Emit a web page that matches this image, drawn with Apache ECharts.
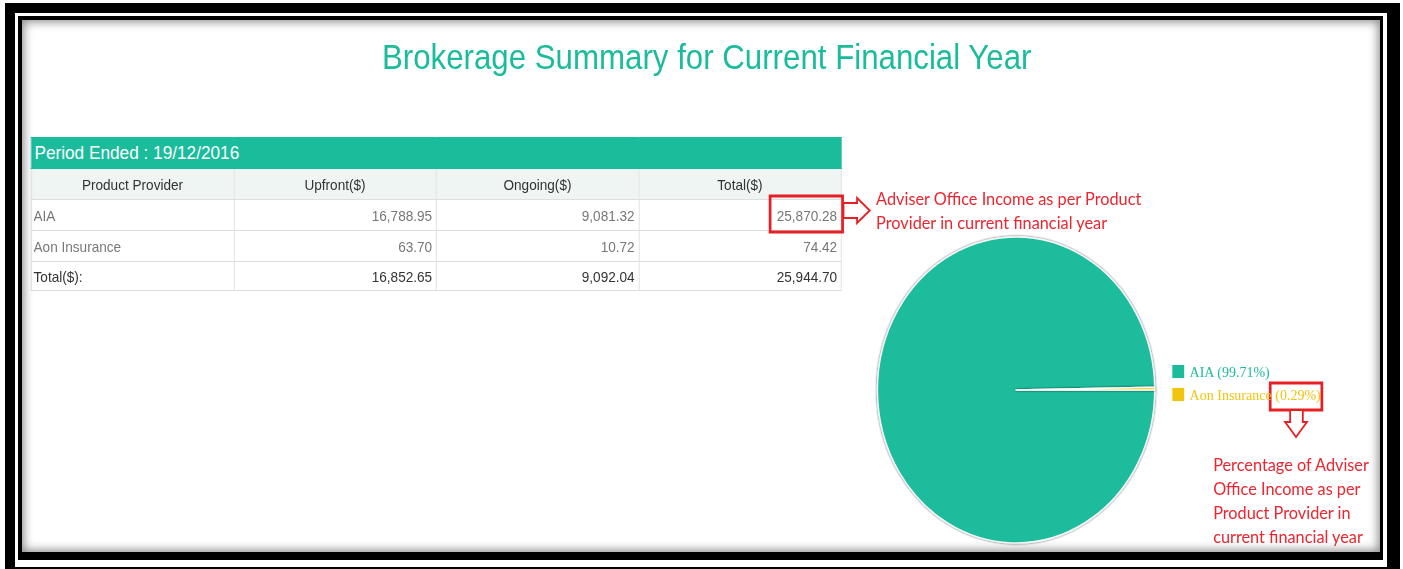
<!DOCTYPE html>
<html>
<head>
<meta charset="utf-8">
<script src="https://cdn.jsdelivr.net/npm/echarts@6/dist/echarts.min.js"></script>
<style>
  html, body { margin: 0; padding: 0; width: 1403px; height: 569px; overflow: hidden; background: #fff; }
  #stage { position: absolute; left: 0; top: 0; width: 1549px; height: 569px; transform: scaleX(0.906); transform-origin: 0 0; }
  #chart { position: absolute; left: 0; top: 0; width: 1549px; height: 569px; }
  #grid { position: absolute; left: 34px; top: 137px; width: 895px; border-collapse: collapse; table-layout: fixed;
          font-family: "Liberation Sans", Arial, sans-serif; font-size: 15px; color: #777; }
  #grid td, #grid th { border: 1px solid #dedede; padding: 0; overflow: hidden; white-space: nowrap; }
  #grid .banner td { background: #1abc9c; color: #fff; font-size: 19px; text-align: left; padding-left: 3px; border-color: #1abc9c; }
  #grid th { background: #eef5f2; color: #333; font-weight: normal; font-size: 15px; text-align: center; }
  #grid td.name { text-align: left; padding-left: 2px; }
  #grid td.num { text-align: right; padding-right: 4px; }
  #grid tr.total td { color: #333; }
  #outer { position: absolute; left: 5px; top: 3px; width: 1395px; height: 570px; box-sizing: border-box;
           border-style: solid; border-color: #000; border-width: 10px 13px 6px 10px; pointer-events: none; }
  #inner { position: absolute; left: 18px; top: 16px; width: 1365px; height: 544px; box-sizing: border-box;
           border-style: solid; border-color: #000; border-width: 4px 3px 8px 4px; pointer-events: none;
           box-shadow: inset 0 0 10px 2px rgba(0,0,0,0.45); }
</style>
</head>
<body>
<div id="stage">
  <table id="grid"></table>
  <div id="chart"></div>
</div>
<div id="outer"></div>
<div id="inner"></div>
<script>
// table data
var periodEnded = '19/12/2016';
var columns = ['Product Provider', 'Upfront($)', 'Ongoing($)', 'Total($)'];
var providers = ['AIA', 'Aon Insurance'];
var upfront = [16788.95, 63.70];
var ongoing = [9081.32, 10.72];
var totals = [25870.28, 74.42];
var totalRow = [16852.65, 9092.04, 25944.70];
var colors = ['#1abc9c', '#f1c40f'];

function fmt(v) {
  return v.toLocaleString('en-US', { minimumFractionDigits: 2, maximumFractionDigits: 2 });
}

// build the html table
var html = '<colgroup><col><col><col><col></colgroup>';
html += '<tr class="banner" style="height:31px"><td colspan="4">Period Ended : ' + periodEnded + '</td></tr>';
html += '<tr style="height:31px">';
columns.forEach(function (c) { html += '<th>' + c + '</th>'; });
html += '</tr>';
providers.forEach(function (p, i) {
  html += '<tr style="height:31px"><td class="name">' + p + '</td>' +
    '<td class="num">' + fmt(upfront[i]) + '</td>' +
    '<td class="num">' + fmt(ongoing[i]) + '</td>' +
    '<td class="num">' + fmt(totals[i]) + '</td></tr>';
});
html += '<tr class="total" style="height:29px"><td class="name">Total($):</td>';
totalRow.forEach(function (v) { html += '<td class="num">' + fmt(v) + '</td>'; });
html += '</tr>';
document.getElementById('grid').innerHTML = html;

var sum = totals.reduce(function (a, b) { return a + b; }, 0);
var pct = {};
providers.forEach(function (p, i) { pct[p] = (totals[i] / sum * 100).toFixed(2); });

var red = '#e81e25';
var redText = '#ec2630';

var chart = echarts.init(document.getElementById('chart'), null, { renderer: 'svg' });
chart.setOption({
  animation: false,
  color: colors,
  title: {
    text: 'Brokerage Summary for Current Financial Year',
    left: 775,
    top: 34,
    textAlign: 'center',
    textStyle: { color: '#1abc9c', fontSize: 34.5, fontWeight: 'normal', fontFamily: 'Liberation Sans' }
  },
  legend: {
    orient: 'vertical',
    left: 1287,
    top: 358,
    icon: 'rect',
    itemWidth: 15,
    itemHeight: 15,
    itemGap: 6,
    selectedMode: false,
    data: providers.map(function (p, i) {
      return { name: p, textStyle: { color: colors[i] } };
    }),
    formatter: function (name) { return name + ' (' + pct[name] + '%)'; },
    textStyle: { fontFamily: 'Liberation Serif', fontSize: 15.5, padding: [0, 0, 0, 0] }
  },
  series: [
    {
      type: 'pie',
      center: [1121.5, 390],
      radius: 153,
      startAngle: 0,
      label: { show: false },
      labelLine: { show: false },
      emphasis: { disabled: true },
      itemStyle: { borderColor: 'rgba(255,255,255,0.95)', borderWidth: 1.5, shadowBlur: 2, shadowColor: 'rgba(0,0,0,0.75)' },
      data: providers.map(function (p, i) { return { name: p, value: totals[i] }; })
    }
  ],
  graphic: [
    { type: 'rect', shape: { x: 850, y: 196, width: 80, height: 36 }, style: { fill: 'none', stroke: red, lineWidth: 3 } },
    { type: 'polygon', shape: { points: [[931, 203], [946, 203], [946, 198], [960, 210.5], [946, 223], [946, 218], [931, 218]] },
      style: { fill: '#fff', stroke: red, lineWidth: 2 } },
    { type: 'text', x: 967, y: 186,
      style: { text: 'Adviser Office Income as per Product\nProvider in current financial year',
               font: '18px Lato', fill: redText, lineHeight: 24, verticalAlign: 'top' } },
    { type: 'rect', shape: { x: 1402, y: 383, width: 57, height: 27 }, style: { fill: 'none', stroke: red, lineWidth: 3 } },
    { type: 'polygon', shape: { points: [[1424, 410], [1424, 422], [1418.5, 422], [1430.5, 437], [1442.5, 422], [1438, 422], [1438, 410]] },
      style: { fill: '#fff', stroke: red, lineWidth: 2 } },
    { type: 'text', x: 1339, y: 452,
      style: { text: 'Percentage of Adviser\nOffice Income as per\nProduct Provider in\ncurrent financial year',
               font: '18px Lato', fill: redText, lineHeight: 24, verticalAlign: 'top' } }
  ]
});
</script>
</body>
</html>
